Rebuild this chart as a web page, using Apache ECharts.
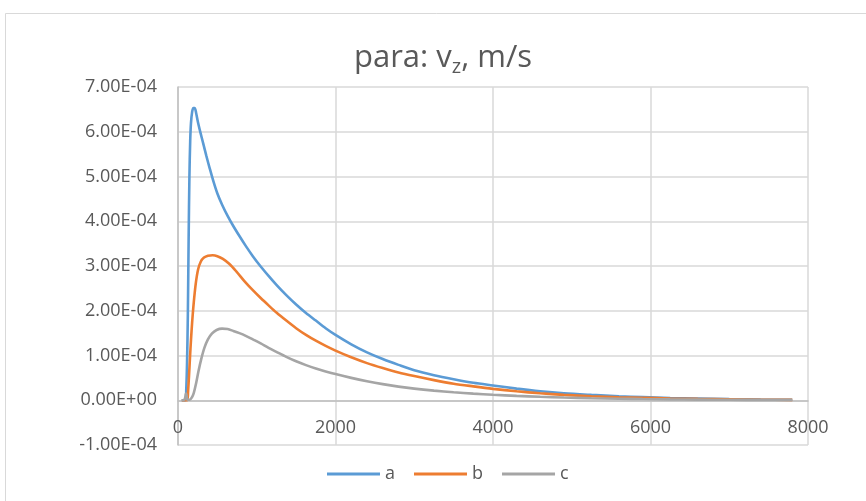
<!DOCTYPE html>
<html>
<head>
<meta charset="utf-8">
<script src="https://cdn.jsdelivr.net/npm/echarts@6/dist/echarts.min.js"></script>
<style>
  html, body { margin: 0; padding: 0; background: #ffffff; }
  #chart { width: 866px; height: 501px; }
</style>
</head>
<body>
<div id="chart"></div>
<script>
// Series names
const seriesNames = ['a', 'b', 'c'];

// Series a: x positions and v_z values (m/s)
const xA = [50, 95, 105, 115, 125, 135, 145, 155, 165, 180, 195, 212, 230, 255, 285, 320, 360, 400, 450, 500, 560, 630, 700, 780, 860, 950, 1050, 1150, 1250, 1375, 1500, 1625, 1750, 1875, 2000, 2200, 2400, 2600, 2800, 3000, 3250, 3500, 3750, 4000, 4300, 4600, 4900, 5250, 5600, 5900, 6250, 6600, 7000, 7400, 7800];
const yA = [0, 0, 0.25e-4, 0.85e-4, 1.9e-4, 3.6e-4, 5.0e-4, 5.8e-4, 6.2e-4, 6.45e-4, 6.53e-4, 6.53e-4, 6.42e-4, 6.2e-4, 5.98e-4, 5.74e-4, 5.46e-4, 5.2e-4, 4.89e-4, 4.62e-4, 4.37e-4, 4.12e-4, 3.9e-4, 3.67e-4, 3.45e-4, 3.22e-4, 2.99e-4, 2.78e-4, 2.58e-4, 2.35e-4, 2.14e-4, 1.95e-4, 1.78e-4, 1.61e-4, 1.46e-4, 1.25e-4, 1.07e-4, 0.92e-4, 0.79e-4, 0.67e-4, 0.56e-4, 0.47e-4, 0.39e-4, 0.33e-4, 0.26e-4, 0.2e-4, 0.155e-4, 0.12e-4, 0.09e-4, 0.07e-4, 0.05e-4, 0.04e-4, 0.025e-4, 0.015e-4, 0.01e-4];

// Series b
const xB = [50, 118, 128, 140, 152, 165, 180, 200, 225, 255, 290, 330, 380, 440, 500, 570, 650, 740, 840, 950, 1050, 1150, 1250, 1375, 1500, 1625, 1750, 1875, 2000, 2200, 2400, 2600, 2800, 3000, 3250, 3500, 3750, 4000, 4300, 4600, 4900, 5250, 5600, 5900, 6250, 6600, 7000, 7400, 7800];
const yB = [0, 0, 0.2e-4, 0.55e-4, 0.95e-4, 1.35e-4, 1.75e-4, 2.18e-4, 2.6e-4, 2.92e-4, 3.1e-4, 3.19e-4, 3.23e-4, 3.24e-4, 3.22e-4, 3.16e-4, 3.05e-4, 2.88e-4, 2.67e-4, 2.46e-4, 2.285e-4, 2.12e-4, 1.96e-4, 1.78e-4, 1.61e-4, 1.46e-4, 1.33e-4, 1.215e-4, 1.11e-4, 0.96e-4, 0.83e-4, 0.72e-4, 0.62e-4, 0.54e-4, 0.45e-4, 0.37e-4, 0.31e-4, 0.255e-4, 0.2e-4, 0.155e-4, 0.12e-4, 0.09e-4, 0.068e-4, 0.055e-4, 0.04e-4, 0.03e-4, 0.02e-4, 0.012e-4, 0.008e-4];

// Series c
const xC = [43, 80, 94, 100, 107, 115, 125, 150, 175, 200, 230, 260, 295, 335, 380, 430, 490, 560, 630, 700, 780, 860, 950, 1050, 1150, 1250, 1375, 1500, 1625, 1750, 1875, 2000, 2200, 2400, 2600, 2800, 3000, 3250, 3500, 3750, 4000, 4300, 4600, 4900, 5250, 5600, 5900, 6250, 6600, 7000, 7400, 7800];
const yC = [0, 0.01e-4, 0.08e-4, 0.15e-4, 0.12e-4, 0.03e-4, 0.01e-4, 0.01e-4, 0.06e-4, 0.16e-4, 0.38e-4, 0.65e-4, 0.92e-4, 1.17e-4, 1.36e-4, 1.49e-4, 1.57e-4, 1.6e-4, 1.59e-4, 1.55e-4, 1.5e-4, 1.44e-4, 1.36e-4, 1.27e-4, 1.17e-4, 1.08e-4, 0.97e-4, 0.87e-4, 0.785e-4, 0.71e-4, 0.645e-4, 0.585e-4, 0.5e-4, 0.425e-4, 0.36e-4, 0.305e-4, 0.26e-4, 0.215e-4, 0.178e-4, 0.148e-4, 0.123e-4, 0.098e-4, 0.077e-4, 0.06e-4, 0.045e-4, 0.034e-4, 0.027e-4, 0.02e-4, 0.015e-4, 0.01e-4, 0.007e-4, 0.005e-4];

// Axis ranges
const xMin = 0, xMax = 8000, xStep = 2000;
const yMin = -1e-4, yMax = 7e-4, yStep = 1e-4;

const colors = ['#5B9BD5', '#ED7D31', '#A5A5A5'];
const FONT = 'Open Sans';
const TEXT = '#595959';

function pairs(xs, ys) {
  return xs.map((x, i) => [x, ys[i]]);
}

// "7.00E-04" style scientific labels
function sci(v) {
  if (Math.abs(v) < 1e-12) v = 0;
  const s = v.toExponential(2);
  const [m, e] = s.split('e');
  const n = parseInt(e, 10);
  const sign = n < 0 ? '-' : '+';
  const ab = Math.abs(n);
  return m + 'E' + sign + (ab < 10 ? '0' + ab : String(ab));
}

const chart = echarts.init(document.getElementById('chart'), null, { renderer: 'canvas' });

const lineSeries = [pairs(xA, yA), pairs(xB, yB), pairs(xC, yC)].map((d, i) => ({
  name: seriesNames[i],
  type: 'line',
  data: d,
  symbol: 'none',
  showSymbol: false,
  smooth: 0.3,
  lineStyle: { color: colors[i], width: 2.6 },
  itemStyle: { color: colors[i] },
  animation: false
}));

chart.setOption({
  backgroundColor: '#ffffff',
  animation: false,
  color: colors,
  graphic: [{
    type: 'rect',
    shape: { x: 5.5, y: 13.5, width: 880, height: 520 },
    style: { fill: 'none', stroke: '#D9D9D9', lineWidth: 1 },
    silent: true,
    z: -10
  }],
  title: {
    text: '{n|para: v}{s|z}{n|, m/s}',
    left: 354,
    top: 40,
    padding: 0,
    textStyle: {
      fontWeight: 'normal',
      rich: {
        n: { fontFamily: FONT, fontSize: 31, fontWeight: 'normal', color: TEXT, lineHeight: 37 },
        s: { fontFamily: FONT, fontSize: 20, fontWeight: 'normal', color: TEXT, lineHeight: 18, verticalAlign: 'bottom' }
      }
    }
  },
  legend: {
    data: seriesNames,
    icon: 'rect',
    left: 327,
    top: 465,
    padding: 0,
    itemWidth: 53,
    itemHeight: 3,
    itemGap: 19,
    textStyle: { fontFamily: FONT, fontSize: 18, color: TEXT }
  },
  grid: {
    left: 178,
    right: 58,
    top: 87,
    bottom: 56,
    containLabel: false,
    outerBoundsMode: 'none'
  },
  xAxis: {
    type: 'value',
    min: xMin,
    max: xMax,
    interval: xStep,
    axisLine: { onZero: true, lineStyle: { color: '#BFBFBF', width: 1.5 } },
    axisTick: { show: false },
    axisLabel: {
      fontFamily: FONT, fontSize: 18, color: TEXT, margin: -26, hideOverlap: false,
      formatter: (v) => String(v)
    },
    splitLine: { show: true, lineStyle: { color: '#D9D9D9', width: 1.5 } }
  },
  yAxis: {
    type: 'value',
    min: yMin,
    max: yMax,
    interval: yStep,
    axisLine: { show: true, lineStyle: { color: '#BFBFBF', width: 1.5 } },
    axisTick: { show: false },
    axisLabel: { fontFamily: FONT, fontSize: 18, color: TEXT, margin: 21, formatter: sci, hideOverlap: false },
    splitLine: { show: true, lineStyle: { color: '#D9D9D9', width: 1.5 } }
  },
  series: lineSeries
});
</script>
</body>
</html>
